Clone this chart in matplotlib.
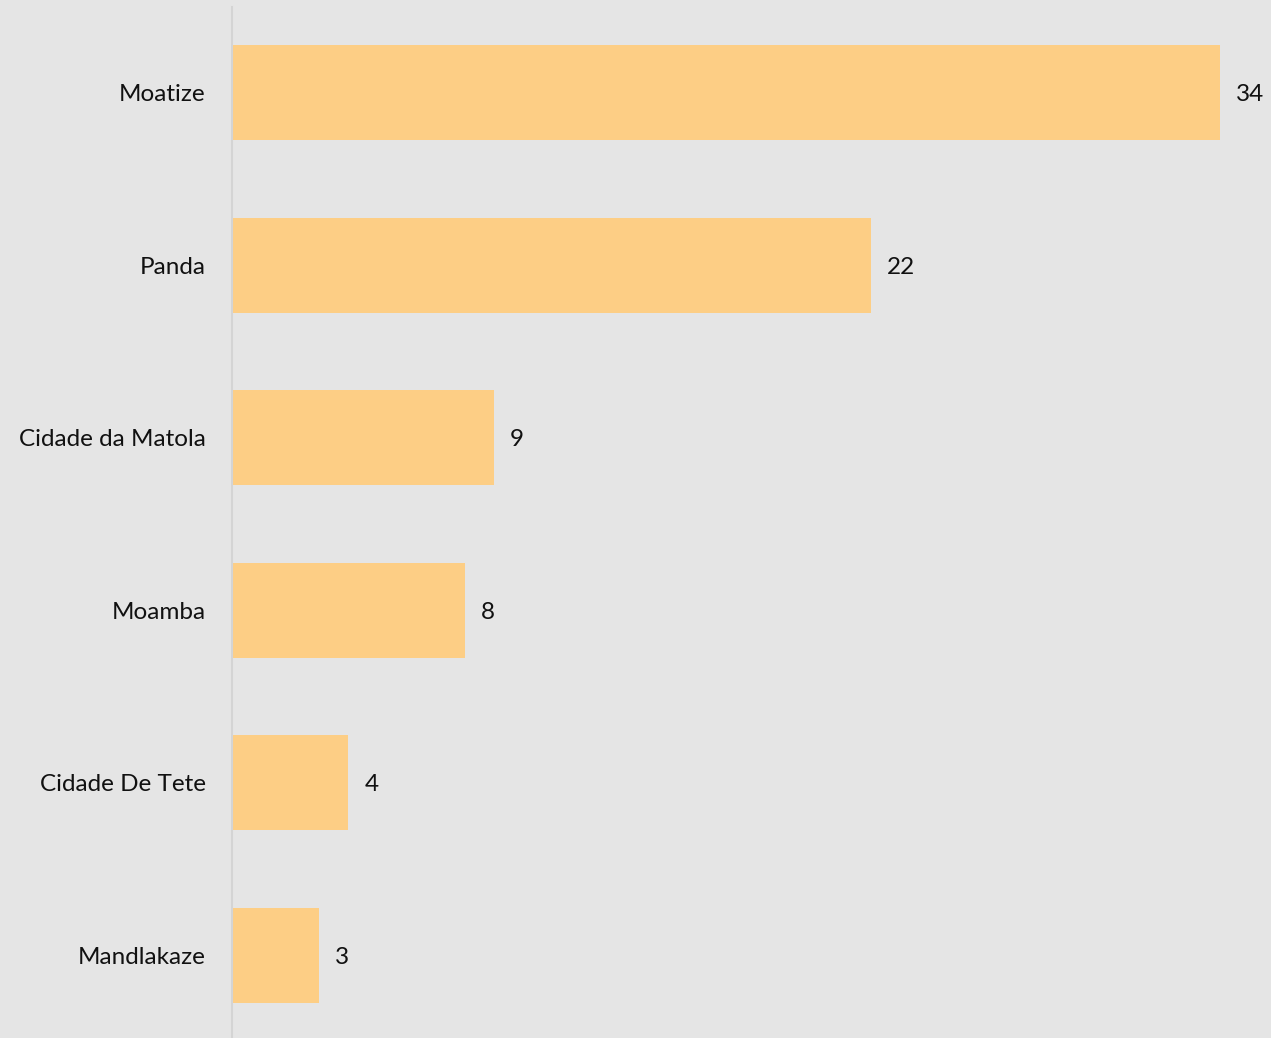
import matplotlib
matplotlib.use("Agg")
import matplotlib.pyplot as plt

categories = ["Moatize", "Panda", "Cidade da Matola", "Moamba", "Cidade De Tete", "Mandlakaze"]
values = [34, 22, 9, 8, 4, 3]

BG = "#E5E5E5"
BAR = "#FDCE85"
FS = 17.5

plt.rcParams["font.family"] = ["Lato", "DejaVu Sans"]

fig = plt.figure(figsize=(12.71, 10.38), dpi=100, facecolor=BG)
ax = fig.add_axes([232 / 1271, 0, (1271 - 232) / 1271, (1038 - 7) / 1038])
ax.set_facecolor(BG)

y = list(range(len(categories)))
ax.barh(y, values, height=0.55, color=BAR, zorder=2)

for yi, v in zip(y, values):
    ax.annotate(str(v), (v, yi), xytext=(11.5, -1.5), textcoords="offset points",
                ha="left", va="center", fontsize=FS, color="#111111")

ax.set_xlim(0, 35.75)
ax.set_ylim(5.48, -0.496)
ax.set_yticks(y)
ax.set_yticklabels(categories, fontsize=FS, color="#111111")
ax.tick_params(axis="y", length=0, pad=19)
ax.set_xticks([])

for side in ["top", "right", "bottom"]:
    ax.spines[side].set_visible(False)
ax.spines["left"].set_color("#D4D4D4")
ax.spines["left"].set_linewidth(1.5)

fig.savefig("out.png", dpi=100, facecolor=BG)
